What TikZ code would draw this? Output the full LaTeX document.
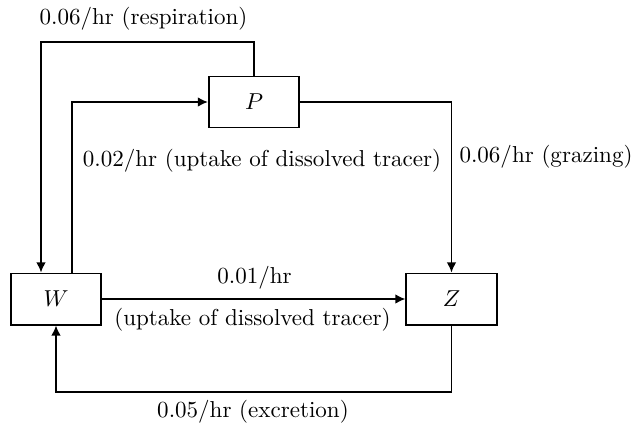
\documentclass[tikz,border=0pt]{standalone}
\usetikzlibrary{arrows.meta}
\begin{document}
\begin{tikzpicture}[x=0.434pt,y=-0.434pt,
  box/.style={draw,line width=0.7pt,minimum width=39.3pt,minimum height=22.3pt,inner sep=0pt},
  flow/.style={draw,line width=0.7pt,-{Latex[length=4.4pt,width=4.2pt]}},
  lab/.style={inner sep=0pt,font=\fontsize{10}{12}\selectfont}]
\useasboundingbox (0,0) rectangle (632,423);
\node[box] (P) at (254,102) {$P$};
\node[box] (W) at (56,299) {$W$};
\node[box] (Z) at (451.5,299) {$Z$};
\coordinate (r1) at (41,42);
\coordinate (u1) at (72,102);
\coordinate (e1) at (451.5,392);
\draw[flow] (P.north) |- (r1) -- (r1 |- W.north);
\draw[flow] (u1 |- W.north) -- (u1) -- (P.west);
\draw[flow] (P.east) -| (Z.north);
\draw[flow] (W.east) -- (Z.west);
\draw[flow] (Z.south) -- (e1) -| (W.south);
\node[lab] (l1) at (143.5,19) {0.06/hr (respiration)};
\node[lab] (l2) at (262,161) {0.02/hr (uptake of dissolved tracer)};
\node[lab] (l3) at (546,157) {0.06/hr (grazing)};
\node[lab] (l4) at (254.5,278) {0.01/hr};
\node[lab] (l5) at (252.5,320) {(uptake of dissolved tracer)};
\node[lab] (l6) at (253,412) {0.05/hr (excretion)};
\end{tikzpicture}
\end{document}
